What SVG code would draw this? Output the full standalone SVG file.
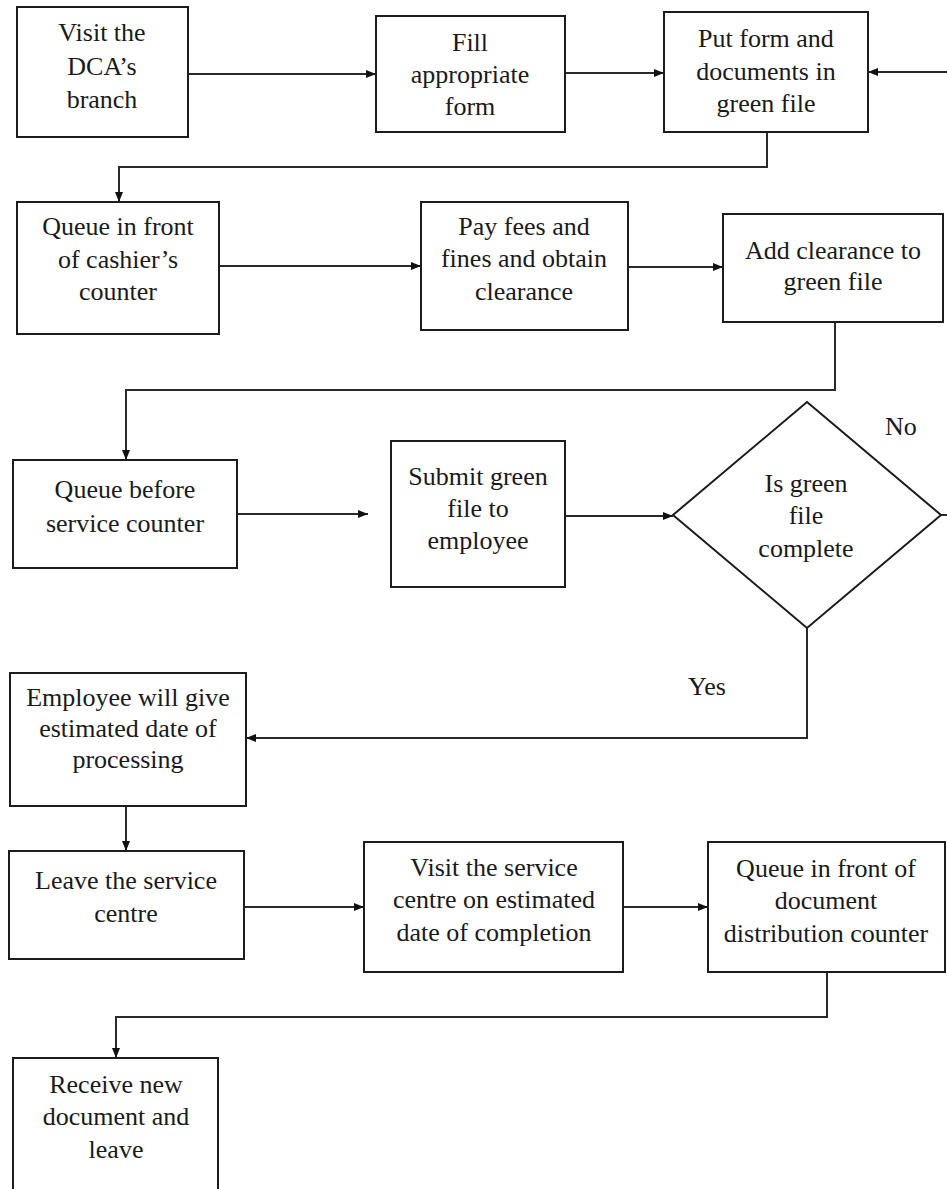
<svg xmlns="http://www.w3.org/2000/svg" width="947" height="1189" viewBox="0 0 947 1189">
  <defs>
    <marker id="arrow" viewBox="0 0 10 8" refX="10" refY="4" markerWidth="10" markerHeight="8" markerUnits="userSpaceOnUse" orient="auto">
      <path d="M0,0 L10,4 L0,8 z" fill="#111"/>
    </marker>
    <style>
      .box { fill: #fff; stroke: #1c1c1c; stroke-width: 2; }
      .lbl { font-family: "Liberation Serif", "Times New Roman", serif; font-size: 26px; fill: #1a1a1a; text-anchor: middle; }
      .tag { font-family: "Liberation Serif", "Times New Roman", serif; font-size: 26px; fill: #1a1a1a; }
      .conn { fill: none; stroke: #2a2a2a; stroke-width: 2; }
      .arr { marker-end: url(#arrow); }
    </style>
  </defs>
  <rect width="947" height="1189" fill="#fff"/>

  <!-- connectors -->
  <g id="connectors">
    <line class="conn arr" x1="188" y1="74" x2="376" y2="74"/>
    <line class="conn arr" x1="565" y1="73" x2="664" y2="73"/>
    <line class="conn arr" x1="947" y1="72" x2="868" y2="72"/>
    <path class="conn arr" d="M767,132 V167 H119 V202"/>
    <line class="conn arr" x1="219" y1="266" x2="421" y2="266"/>
    <line class="conn arr" x1="628" y1="267" x2="723" y2="267"/>
    <path class="conn arr" d="M835,322 V390 H126 V460"/>
    <line class="conn arr" x1="237" y1="514" x2="368" y2="514"/>
    <line class="conn arr" x1="565" y1="516" x2="673" y2="516"/>
    <line class="conn" x1="941" y1="515" x2="947" y2="515"/>
    <path class="conn arr" d="M807,628 V738 H246"/>
    <line class="conn arr" x1="126" y1="806" x2="126" y2="851"/>
    <line class="conn arr" x1="244" y1="907" x2="364" y2="907"/>
    <line class="conn arr" x1="623" y1="907" x2="708" y2="907"/>
    <path class="conn arr" d="M827,972 V1017 H116 V1058"/>
    <text class="tag" x="885" y="435">No</text>
    <text class="tag" x="688" y="695">Yes</text>
  </g>

  <g id="visit-branch">
    <rect class="box" x="17" y="7" width="171" height="130"/>
    <text class="lbl" x="102" y="41">Visit the</text>
    <text class="lbl" x="102" y="75">DCA’s</text>
    <text class="lbl" x="102" y="108">branch</text>
  </g>

  <g id="fill-form">
    <rect class="box" x="376" y="16" width="189" height="116"/>
    <text class="lbl" x="470" y="51">Fill</text>
    <text class="lbl" x="470" y="83">appropriate</text>
    <text class="lbl" x="470" y="115">form</text>
  </g>

  <g id="green-file">
    <rect class="box" x="664" y="12" width="204" height="120"/>
    <text class="lbl" x="766" y="47">Put form and</text>
    <text class="lbl" x="766" y="80">documents in</text>
    <text class="lbl" x="766" y="112">green file</text>
  </g>

  <g id="cashier-queue">
    <rect class="box" x="17" y="202" width="202" height="132"/>
    <text class="lbl" x="118" y="235">Queue in front</text>
    <text class="lbl" x="118" y="268">of cashier’s</text>
    <text class="lbl" x="118" y="300">counter</text>
  </g>

  <g id="pay-fees">
    <rect class="box" x="421" y="202" width="207" height="128"/>
    <text class="lbl" x="524" y="235">Pay fees and</text>
    <text class="lbl" x="524" y="267">fines and obtain</text>
    <text class="lbl" x="524" y="300">clearance</text>
  </g>

  <g id="add-clearance">
    <rect class="box" x="723" y="214" width="220" height="108"/>
    <text class="lbl" x="833" y="259">Add clearance to</text>
    <text class="lbl" x="833" y="290">green file</text>
  </g>

  <g id="service-queue">
    <rect class="box" x="13" y="460" width="224" height="108"/>
    <text class="lbl" x="125" y="498">Queue before</text>
    <text class="lbl" x="125" y="532">service counter</text>
  </g>

  <g id="submit-file">
    <rect class="box" x="391" y="441" width="174" height="146"/>
    <text class="lbl" x="478" y="485">Submit green</text>
    <text class="lbl" x="478" y="517">file to</text>
    <text class="lbl" x="478" y="549">employee</text>
  </g>

  <g id="file-complete">
    <polygon class="box" points="807,402 941,515 807,628 673,515"/>
    <text class="lbl" x="806" y="492">Is green</text>
    <text class="lbl" x="806" y="524">file</text>
    <text class="lbl" x="806" y="557">complete</text>
  </g>

  <g id="estimated-date">
    <rect class="box" x="10" y="673" width="236" height="133"/>
    <text class="lbl" x="128" y="706">Employee will give</text>
    <text class="lbl" x="128" y="737">estimated date of</text>
    <text class="lbl" x="128" y="768">processing</text>
  </g>

  <g id="leave-centre">
    <rect class="box" x="9" y="851" width="235" height="108"/>
    <text class="lbl" x="126" y="889">Leave the service</text>
    <text class="lbl" x="126" y="922">centre</text>
  </g>

  <g id="revisit-centre">
    <rect class="box" x="364" y="842" width="259" height="130"/>
    <text class="lbl" x="494" y="876">Visit the service</text>
    <text class="lbl" x="494" y="908">centre on estimated</text>
    <text class="lbl" x="494" y="941">date of completion</text>
  </g>

  <g id="distribution-queue">
    <rect class="box" x="708" y="842" width="237" height="130"/>
    <text class="lbl" x="826" y="877">Queue in front of</text>
    <text class="lbl" x="826" y="909">document</text>
    <text class="lbl" x="826" y="942">distribution counter</text>
  </g>

  <g id="receive-document">
    <rect class="box" x="13" y="1058" width="205" height="140"/>
    <text class="lbl" x="116" y="1093">Receive new</text>
    <text class="lbl" x="116" y="1125">document and</text>
    <text class="lbl" x="116" y="1158">leave</text>
  </g>
</svg>
